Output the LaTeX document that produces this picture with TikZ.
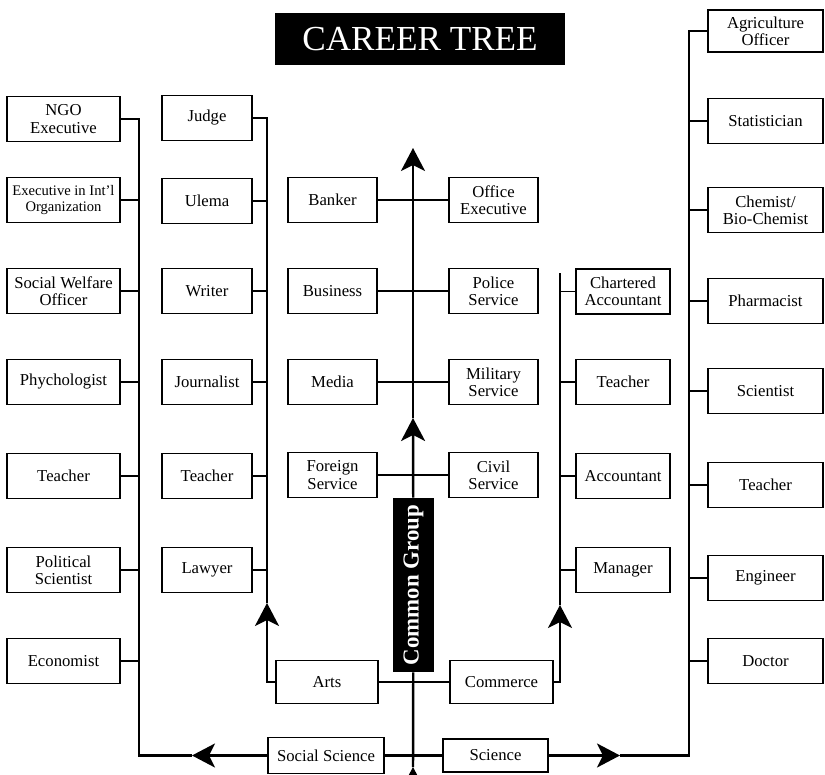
\documentclass[tikz,border=0pt]{standalone}
\usepackage{fontspec}
\setmainfont{Liberation Serif}
\usetikzlibrary{arrows.meta}

\tikzset{
  job/.style={draw, line width=0.9pt, minimum height=0.9cm, align=center, inner sep=1pt,
    font=\fontsize{9.5}{9.8}\selectfont},
  colA/.style={job, minimum width=2.26cm},
  colB/.style={job, minimum width=1.8cm},
  colM/.style={job, minimum width=1.78cm},
  colC/.style={job, minimum width=1.88cm},
  colD/.style={job, minimum width=2.3cm},
  spine/.style={line width=1.4pt},
  link/.style={line width=1pt}
}

\begin{document}
\begin{tikzpicture}[>={Stealth[length=4.6mm, width=4.8mm, inset=1.2mm]}]
\useasboundingbox (0cm, 0cm) rectangle (16.5cm, 15.5cm);
%title
\node[fill=black, text=white, minimum width=5.8cm, minimum height=1.04cm,
  font=\fontsize{20}{22}\selectfont] (title) at (8.4cm, 14.72cm) {CAREER TREE};
%social science side
\node[colA] (ngo)     at (1.27cm, 13.12cm) {NGO\\Executive};
\node[colA, font=\fontsize{8.3}{9.6}\selectfont] (intl) at (1.27cm, 11.5cm) {Executive in Int'l\\Organization};
\node[colA] (welfare) at (1.27cm, 9.68cm)  {Social Welfare\\Officer};
\node[colA] (psych)   at (1.27cm, 7.86cm)  {Phychologist};
\node[colA] (teachA)  at (1.27cm, 5.98cm)  {Teacher};
\node[colA] (polsci)  at (1.27cm, 4.1cm)   {Political\\Scientist};
\node[colA] (econ)    at (1.27cm, 2.28cm)  {Economist};
%arts side
\node[colB] (judge)   at (4.14cm, 13.14cm) {Judge};
\node[colB] (ulema)   at (4.14cm, 11.48cm) {Ulema};
\node[colB] (writer)  at (4.14cm, 9.68cm)  {Writer};
\node[colB] (journo)  at (4.14cm, 7.86cm)  {Journalist};
\node[colB] (teachB)  at (4.14cm, 5.98cm)  {Teacher};
\node[colB] (lawyer)  at (4.14cm, 4.1cm)   {Lawyer};
%common group
\node[colM] (banker)   at (6.65cm, 11.5cm) {Banker};
\node[colM] (business) at (6.65cm, 9.68cm) {Business};
\node[colM] (media)    at (6.65cm, 7.86cm) {Media};
\node[colM] (foreign)  at (6.65cm, 6.0cm)  {Foreign\\Service};
\node[colM] (office)   at (9.87cm, 11.5cm) {Office\\Executive};
\node[colM] (police)   at (9.87cm, 9.68cm) {Police\\Service};
\node[colM] (military) at (9.87cm, 7.86cm) {Military\\Service};
\node[colM] (civil)    at (9.87cm, 6.0cm)  {Civil\\Service};
\node[fill=black, text=white, rotate=90, minimum width=3.48cm, minimum height=0.82cm,
  font=\bfseries\fontsize{13}{14}\selectfont] (common) at (8.27cm, 3.8cm) {Common Group};
%commerce side
\node[colC] (chartered)  at (12.46cm, 9.67cm) {Chartered\\Accountant};
\node[colC] (teachC)     at (12.46cm, 7.86cm) {Teacher};
\node[colC] (accountant) at (12.46cm, 5.98cm) {Accountant};
\node[colC] (manager)    at (12.46cm, 4.1cm)  {Manager};
%science side
\node[colD, minimum height=0.84cm] (agri) at (15.31cm, 14.88cm) {Agriculture\\Officer};
\node[colD] (stat)      at (15.31cm, 13.08cm) {Statistician};
\node[colD] (chem)      at (15.31cm, 11.3cm)  {Chemist/\\Bio-Chemist};
\node[colD] (pharm)     at (15.31cm, 9.48cm)  {Pharmacist};
\node[colD] (scientist) at (15.31cm, 7.68cm)  {Scientist};
\node[colD] (teachD)    at (15.31cm, 5.8cm)   {Teacher};
\node[colD] (engineer)  at (15.31cm, 3.94cm)  {Engineer};
\node[colD] (doctor)    at (15.31cm, 2.28cm)  {Doctor};
%streams
\node[job, minimum width=2.04cm, minimum height=0.86cm] (arts)     at (6.54cm, 1.86cm)  {Arts};
\node[job, minimum width=2.06cm, minimum height=0.86cm] (commerce) at (10.03cm, 1.86cm) {Commerce};
\node[job, minimum width=2.32cm, minimum height=0.72cm] (ss)       at (6.52cm, 0.39cm)  {Social Science};
\node[job, minimum width=2.1cm, minimum height=0.66cm]  (sci)      at (9.91cm, 0.39cm)  {Science};
%spine ends and arrow tips
\coordinate (ltop)    at (2.78cm, 13.12cm);
\coordinate (artstop) at (5.34cm, 13.14cm);
\coordinate (comtop)  at (11.2cm, 10.04cm);
\coordinate (rtop)    at (13.78cm, 14.88cm);
\coordinate (lArr)    at (3.84cm, 0.39cm);
\coordinate (rArr)    at (12.4cm, 0.39cm);
\coordinate (artsArr) at (5.34cm, 3.44cm);
\coordinate (comArr)  at (11.2cm, 3.4cm);
\coordinate (cbot)    at (8.26cm, 0cm);
\coordinate (botArr)  at (8.26cm, 0.16cm);
\coordinate (midArr)  at (8.26cm, 7.14cm);
\coordinate (topArr)  at (8.26cm, 12.54cm);
%central spine
\draw[spine,->] (cbot) -- (botArr);
\draw[spine] (botArr) -- (common);
\draw[spine,->] (common) -- (midArr);
\draw[spine,->] (midArr) -- (topArr);
\draw[spine] (arts.east) -- (commerce.west);
\draw[spine] (ss.east) -- (sci.west);
\draw[link] (banker.east) -- (office.west);
\draw[link] (business.east) -- (police.west);
\draw[link] (media.east) -- (military.west);
\draw[link] (foreign.east) -- (civil.west);
%social science spine
\draw[spine,->] (ss.west) -- (lArr);
\draw[spine] (lArr) -| (ltop) -- (ngo.east);
\foreach \n in {intl,welfare,psych,teachA,polsci,econ}
  \draw[link] (\n.east) -- (\n.east -| ltop);
%arts spine
\draw[spine,->] (arts.west) -| (artsArr);
\draw[spine] (artsArr) -- (artstop) -- (judge.east);
\foreach \n in {ulema,writer,journo,teachB,lawyer}
  \draw[link] (\n.east) -- (\n.east -| artstop);
%commerce spine
\draw[spine,->] (commerce.east) -| (comArr);
\draw[spine] (comArr) -- (comtop);
\foreach \n in {chartered,teachC,accountant,manager}
  \draw[link] (\n.west) -- (\n.west -| comtop);
%science spine
\draw[spine,->] (sci.east) -- (rArr);
\draw[spine] (rArr) -| (rtop) -- (agri.west);
\foreach \n in {stat,chem,pharm,scientist,teachD,engineer,doctor}
  \draw[link] (\n.west) -- (\n.west -| rtop);
\end{tikzpicture}
\end{document}
